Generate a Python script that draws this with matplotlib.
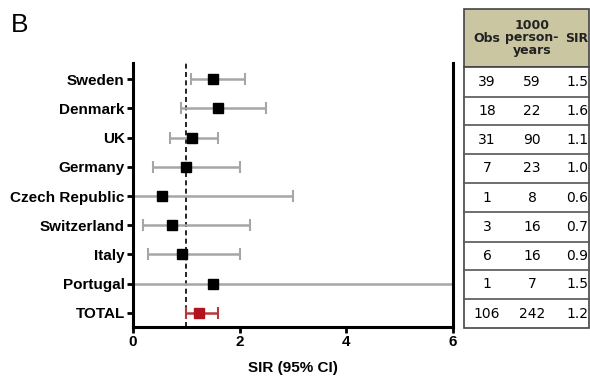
import matplotlib
matplotlib.use("Agg")
import matplotlib.pyplot as plt
from matplotlib.patches import Rectangle
from matplotlib.lines import Line2D

countries = ["Sweden", "Denmark", "UK", "Germany", "Czech Republic",
             "Switzerland", "Italy", "Portugal", "TOTAL"]
sir_point = [1.5, 1.6, 1.1, 1.0, 0.55, 0.73, 0.92, 1.5, 1.24]
ci_low = [1.09, 0.9, 0.7, 0.38, 0.0, 0.18, 0.28, 0.0, 0.99]
ci_high = [2.1, 2.5, 1.6, 2.0, 3.0, 2.2, 2.0, 9.0, 1.6]
obs = ["39", "18", "31", "7", "1", "3", "6", "1", "106"]
person_years = ["59", "22", "90", "23", "8", "16", "16", "7", "242"]
sir_table = ["1.5", "1.6", "1.1", "1.0", "0.6", "0.7", "0.9", "1.5", "1.2"]
x_ticks = [0, 2, 4, 6]

plt.rcParams['font.family'] = ['Liberation Sans', 'DejaVu Sans']

W, H = 590, 381
fig = plt.figure(figsize=(W / 100, H / 100), dpi=100)

def fx(px):
    return px / W

def fy(py):
    return 1 - py / H

ax = fig.add_axes([fx(133), fy(327), fx(453) - fx(133), fy(63) - fy(327)])

ypos = list(range(len(countries)))
ax.axvline(1, color="black", lw=1.2, ls=(0, (3, 2)), zorder=1)

for i, y in enumerate(ypos):
    is_total = countries[i] == "TOTAL"
    ecol = "#b23a3a" if is_total else "#a6a6a6"
    mcol = "#b0151e" if is_total else "black"
    lo = sir_point[i] - ci_low[i]
    hi = ci_high[i] - sir_point[i]
    ax.errorbar(sir_point[i], y, xerr=[[lo], [hi]], fmt="none", ecolor=ecol,
                elinewidth=1.8, capsize=4, capthick=1.5, zorder=2)
    ax.plot(sir_point[i], y, marker="s", ms=7.5, color=mcol, ls="none", zorder=3)

ax.set_xlim(0, 6)
ax.set_ylim(8.48, -0.55)
ax.set_yticks(ypos)
ax.set_yticklabels(countries, fontsize=11, fontweight="bold")
ax.set_xticks(x_ticks)
ax.set_xticklabels([str(t) for t in x_ticks], fontsize=11, fontweight="bold")
ax.tick_params(axis="both", width=2, length=4, direction="out", pad=2)
ax.spines["top"].set_visible(False)
for s in ["left", "bottom", "right"]:
    ax.spines[s].set_linewidth(2.2)
fig.text(fx(293), fy(368), "SIR (95% CI)", fontsize=11, fontweight="bold",
         ha="center", va="center")

fig.text(fx(11), fy(32), "B", fontsize=19, ha="left", va="baseline")

# Table
tl, tr = 464, 589
top, hb = 9, 67
row_edges = [67, 97, 125, 154, 183, 212, 242, 270, 299, 328]
col_x = [487, 532, 577]
fig.patches.append(Rectangle((fx(tl), fy(hb)), fx(tr) - fx(tl), fy(top) - fy(hb),
                             transform=fig.transFigure, facecolor="#cbc6a2",
                             edgecolor="#444444", lw=1.2))
fig.patches.append(Rectangle((fx(tl), fy(row_edges[-1])), fx(tr) - fx(tl),
                             fy(row_edges[0]) - fy(row_edges[-1]),
                             transform=fig.transFigure, facecolor="white",
                             edgecolor="#444444", lw=1.2))
for e in row_edges[1:-1]:
    fig.lines.append(Line2D([fx(tl), fx(tr)], [fy(e), fy(e)], transform=fig.transFigure,
                            color="#555555", lw=1.2))

hfont = dict(fontsize=9, fontweight="bold", family="DejaVu Sans", color="#222222")
fig.text(fx(col_x[0]), fy(38), "Obs", ha="center", va="center", **hfont)
fig.text(fx(col_x[1]), fy(38), "1000\nperson-\nyears", ha="center", va="center",
         linespacing=0.95, **hfont)
fig.text(fx(col_x[2]), fy(38), "SIR", ha="center", va="center", **hfont)

tfont = dict(fontsize=10, family="DejaVu Sans", color="#000000")
for i in range(len(obs)):
    yc = (row_edges[i] + row_edges[i + 1]) / 2
    for cx, val in zip(col_x, [obs[i], person_years[i], sir_table[i]]):
        fig.text(fx(cx), fy(yc), val, ha="center", va="center", **tfont)

fig.savefig("out.png", dpi=100)
